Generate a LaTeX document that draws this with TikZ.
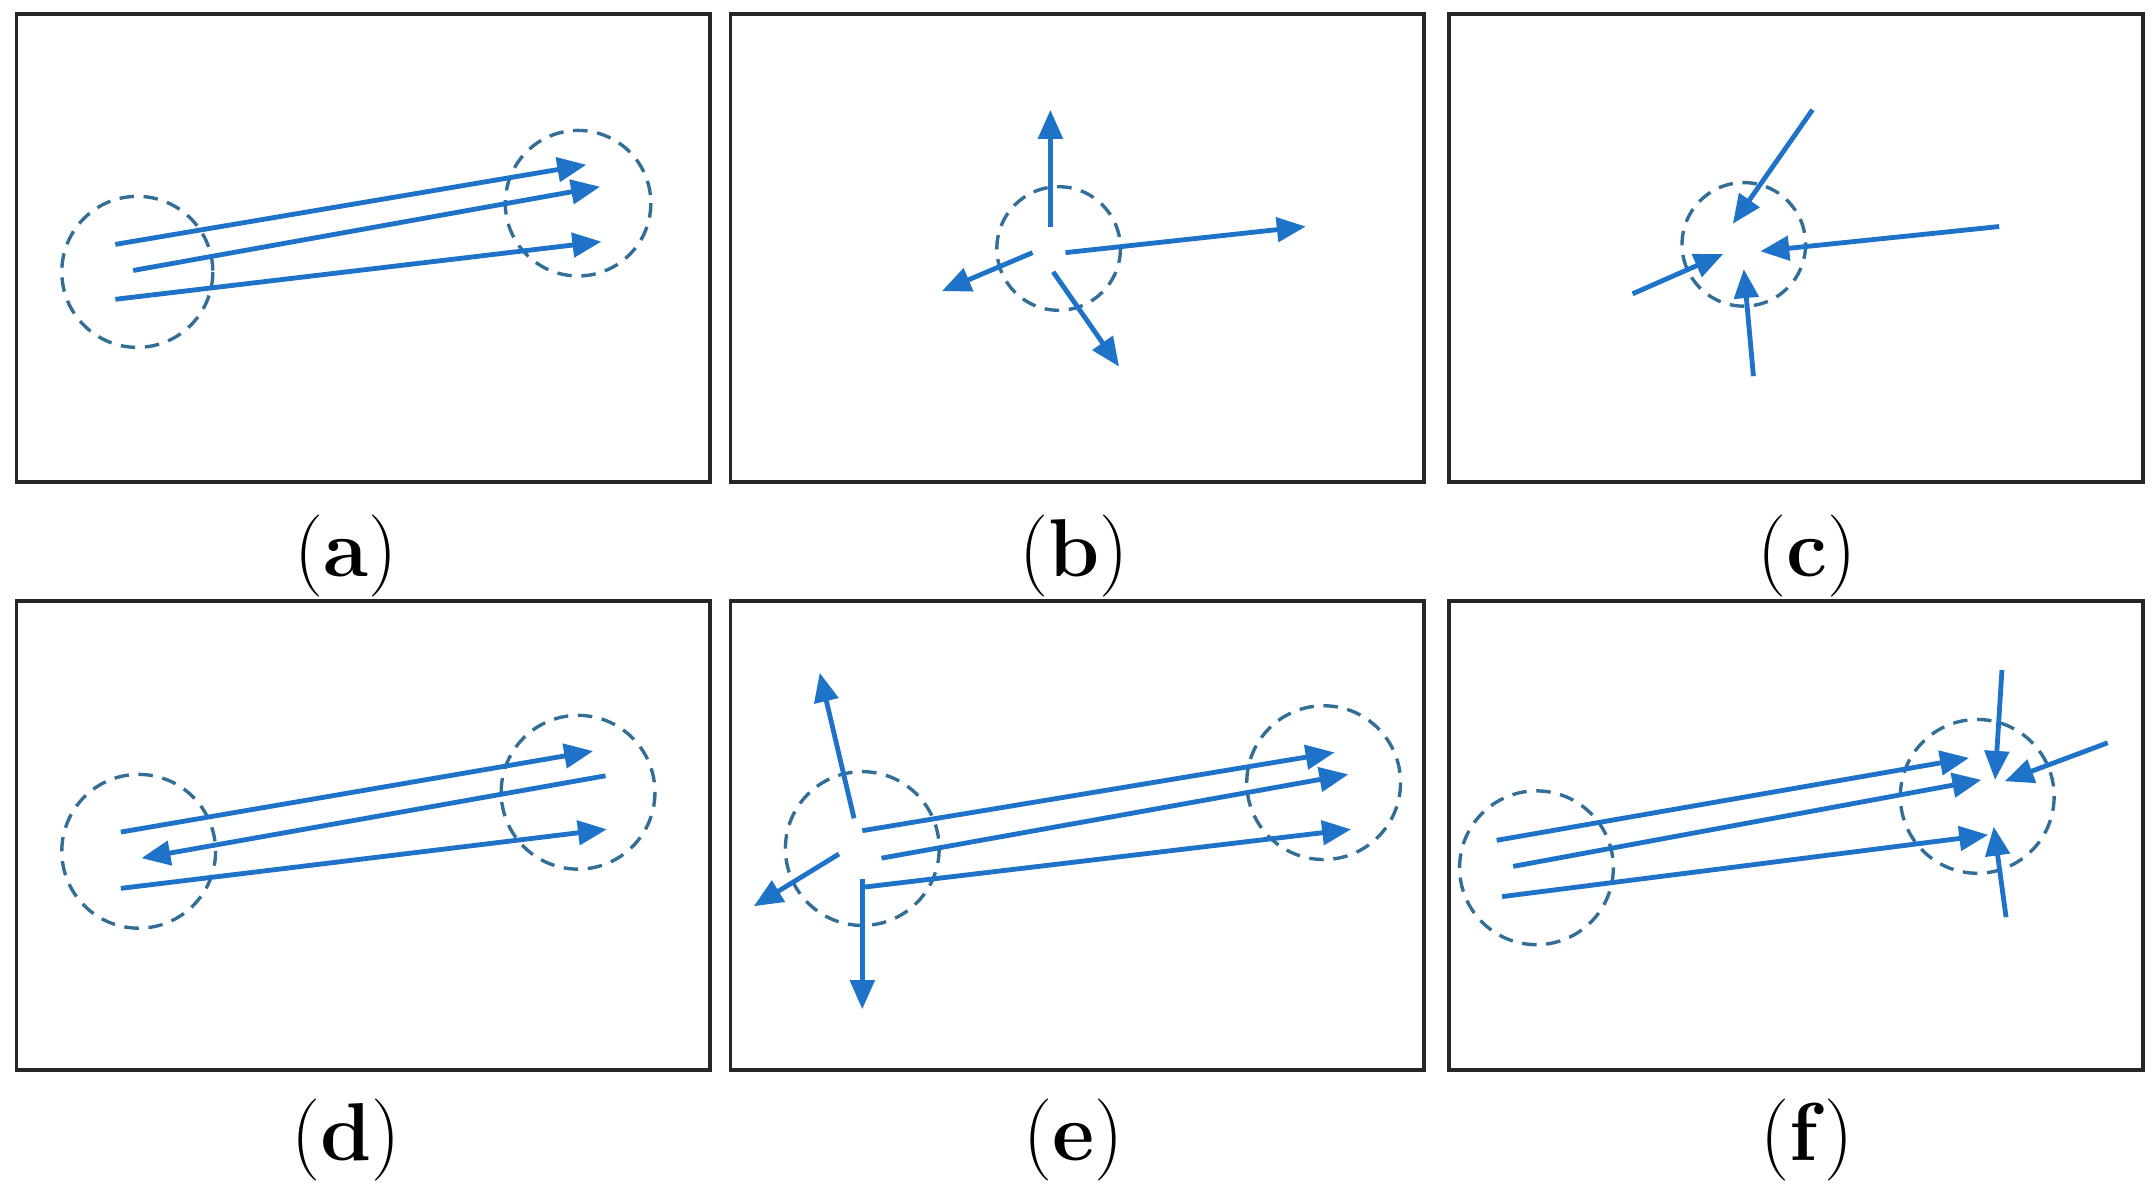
\documentclass[tikz,border=0pt]{standalone}
\usetikzlibrary{arrows.meta}
\definecolor{arr}{RGB}{30,115,200}
\definecolor{circ}{RGB}{50,110,150}
\begin{document}
\begin{tikzpicture}[x=0.01cm,y=-0.01cm,
  box/.style={draw=black!85,line width=0.8pt},
  ar/.style={draw=arr,line width=1pt,-{Triangle[length=6pt,width=5pt]}},
  dc/.style={draw=circ,line width=0.7pt,dash pattern=on 3pt off 2pt},
  lab/.style={font=\fontsize{17}{20}\selectfont}]
\useasboundingbox (0,0) rectangle (1568,868);
\foreach \y in {10,438}{
  \draw[box] (12,\y) rectangle (517,\y+341);
  \draw[box] (532,\y) rectangle (1037,\y+341);
  \draw[box] (1055,\y) rectangle (1561,\y+341);}
\node[lab] (la) at (252,405) {(\textbf{a})};
\node[lab] (lb) at (782,405) {(\textbf{b})};
\node[lab] (lc) at (1316,405) {(\textbf{c})};
\node[lab] (ld) at (252,830) {(\textbf{d})};
\node[lab] (le) at (782,830) {(\textbf{e})};
\node[lab] (lf) at (1316,830) {(\textbf{f})};
% (a)
\draw[dc] (100,198) circle (55); \draw[dc] (421,148) circle (53);
\draw[ar] (84,178)--(427,120); \draw[ar] (97,197)--(437,136); \draw[ar] (84,218)--(438,176);
% (b)
\draw[dc] (771,181) circle (45);
\draw[ar] (765,165)--(765,80); \draw[ar] (776,184)--(951,165);
\draw[ar] (752,184)--(686,212); \draw[ar] (767,198)--(815,267);
% (c)
\draw[dc] (1270,178) circle (45);
\draw[ar] (1320,80)--(1262,163); \draw[ar] (1456,165)--(1282,183);
\draw[ar] (1189,214)--(1255,185); \draw[ar] (1277,274)--(1270,196);
% (d)
\draw[dc] (101,620) circle (56); \draw[dc] (421,577) circle (56);
\draw[ar] (88,606)--(432,547); \draw[ar] (441,565)--(103,625); \draw[ar] (88,647)--(442,604);
% (e)
\draw[dc] (628,618) circle (56); \draw[dc] (964,570) circle (56);
\draw[ar] (628,605)--(972,548); \draw[ar] (642,625)--(982,564); \draw[ar] (630,646)--(984,604);
\draw[ar] (622,596)--(597,490); \draw[ar] (611,622)--(549,660); \draw[ar] (628,640)--(628,735);
% (f)
\draw[dc] (1119,632) circle (56); \draw[dc] (1440,580) circle (56);
\draw[ar] (1090,612)--(1434,552); \draw[ar] (1102,631)--(1443,568); \draw[ar] (1094,653)--(1448,608);
\draw[ar] (1458,488)--(1453,568); \draw[ar] (1535,541)--(1460,569); \draw[ar] (1461,668)--(1452,602);
\end{tikzpicture}
\end{document}
